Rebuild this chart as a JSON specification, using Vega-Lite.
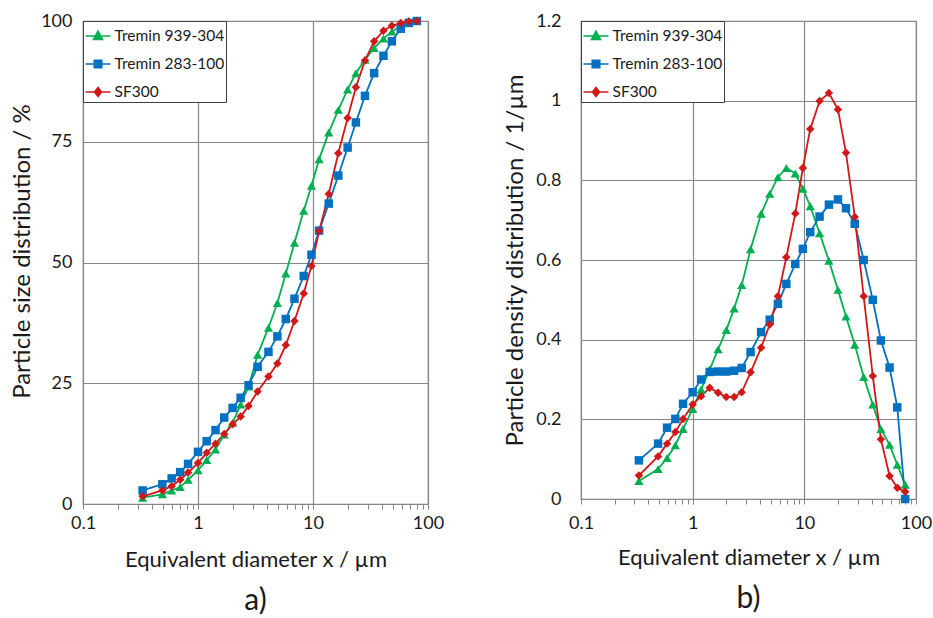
{
  "$schema": "https://vega.github.io/schema/vega-lite/v6.json",
  "padding": {"left": 10, "top": 11, "right": 2, "bottom": 2},
  "background": "white",
  "config": {
    "font": "Lato",
    "view": {"stroke": "#868686", "strokeWidth": 1.2},
    "axis": {"labelColor": "#1a1a1a", "titleColor": "#1a1a1a", "titleFontWeight": "normal", "gridColor": "#868686", "gridWidth": 1.2, "domainColor": "#868686", "tickColor": "#868686", "labelFontSize": 18, "titleFontSize": 22},
    "legend": {"title": null, "orient": "top-left", "offset": 0, "padding": 1.5, "strokeColor": "#404040", "fillColor": "white", "symbolSize": 625, "symbolStrokeWidth": 1.6, "labelFontSize": 15.5, "labelOffset": 3, "rowPadding": 6, "labelColor": "#1a1a1a"},
    "concat": {"spacing": 58},
    "title": {"fontWeight": "normal", "color": "#1a1a1a"}
  },
  "datasets": {
    "cum": [
      {"s": "Tremin 939-304", "d": 0.33, "v": 1.3}, {"s": "Tremin 939-304", "d": 0.49, "v": 2.0}, {"s": "Tremin 939-304", "d": 0.59, "v": 2.8}, {"s": "Tremin 939-304", "d": 0.70, "v": 3.5}, {"s": "Tremin 939-304", "d": 0.82, "v": 5.0}, {"s": "Tremin 939-304", "d": 1.0, "v": 7.0}, {"s": "Tremin 939-304", "d": 1.19, "v": 9.1}, {"s": "Tremin 939-304", "d": 1.42, "v": 11.3}, {"s": "Tremin 939-304", "d": 1.69, "v": 14.4}, {"s": "Tremin 939-304", "d": 2.0, "v": 16.8}, {"s": "Tremin 939-304", "d": 2.35, "v": 20.6}, {"s": "Tremin 939-304", "d": 2.75, "v": 24.3}, {"s": "Tremin 939-304", "d": 3.3, "v": 30.9}, {"s": "Tremin 939-304", "d": 4.1, "v": 36.5}, {"s": "Tremin 939-304", "d": 4.9, "v": 41.6}, {"s": "Tremin 939-304", "d": 5.8, "v": 47.7}, {"s": "Tremin 939-304", "d": 6.9, "v": 54.1}, {"s": "Tremin 939-304", "d": 8.3, "v": 60.7}, {"s": "Tremin 939-304", "d": 9.7, "v": 65.9}, {"s": "Tremin 939-304", "d": 11.3, "v": 71.4}, {"s": "Tremin 939-304", "d": 13.7, "v": 76.9}, {"s": "Tremin 939-304", "d": 16.6, "v": 81.6}, {"s": "Tremin 939-304", "d": 20, "v": 85.8}, {"s": "Tremin 939-304", "d": 23.6, "v": 89.2}, {"s": "Tremin 939-304", "d": 28.3, "v": 92.0}, {"s": "Tremin 939-304", "d": 34, "v": 94.4}, {"s": "Tremin 939-304", "d": 41, "v": 96.4}, {"s": "Tremin 939-304", "d": 48.5, "v": 97.8}, {"s": "Tremin 939-304", "d": 58, "v": 99.0}, {"s": "Tremin 939-304", "d": 68, "v": 99.6}, {"s": "Tremin 939-304", "d": 80, "v": 100},
      {"s": "Tremin 283-100", "d": 0.33, "v": 2.8}, {"s": "Tremin 283-100", "d": 0.49, "v": 4.1}, {"s": "Tremin 283-100", "d": 0.59, "v": 5.3}, {"s": "Tremin 283-100", "d": 0.70, "v": 6.6}, {"s": "Tremin 283-100", "d": 0.82, "v": 8.3}, {"s": "Tremin 283-100", "d": 1.0, "v": 10.8}, {"s": "Tremin 283-100", "d": 1.19, "v": 13.0}, {"s": "Tremin 283-100", "d": 1.42, "v": 15.3}, {"s": "Tremin 283-100", "d": 1.69, "v": 17.9}, {"s": "Tremin 283-100", "d": 2.0, "v": 19.9}, {"s": "Tremin 283-100", "d": 2.35, "v": 22.0}, {"s": "Tremin 283-100", "d": 2.75, "v": 24.6}, {"s": "Tremin 283-100", "d": 3.3, "v": 28.4}, {"s": "Tremin 283-100", "d": 4.1, "v": 31.5}, {"s": "Tremin 283-100", "d": 4.9, "v": 34.7}, {"s": "Tremin 283-100", "d": 5.8, "v": 38.3}, {"s": "Tremin 283-100", "d": 6.9, "v": 42.5}, {"s": "Tremin 283-100", "d": 8.3, "v": 47.2}, {"s": "Tremin 283-100", "d": 9.7, "v": 51.6}, {"s": "Tremin 283-100", "d": 11.3, "v": 56.6}, {"s": "Tremin 283-100", "d": 13.7, "v": 62.2}, {"s": "Tremin 283-100", "d": 16.6, "v": 68.0}, {"s": "Tremin 283-100", "d": 20, "v": 73.8}, {"s": "Tremin 283-100", "d": 23.6, "v": 79.0}, {"s": "Tremin 283-100", "d": 28.3, "v": 84.5}, {"s": "Tremin 283-100", "d": 34, "v": 89.2}, {"s": "Tremin 283-100", "d": 41, "v": 92.8}, {"s": "Tremin 283-100", "d": 48.5, "v": 95.8}, {"s": "Tremin 283-100", "d": 58, "v": 98.4}, {"s": "Tremin 283-100", "d": 68, "v": 99.6}, {"s": "Tremin 283-100", "d": 80, "v": 100},
      {"s": "SF300", "d": 0.33, "v": 1.6}, {"s": "SF300", "d": 0.49, "v": 2.8}, {"s": "SF300", "d": 0.59, "v": 3.7}, {"s": "SF300", "d": 0.70, "v": 5.0}, {"s": "SF300", "d": 0.82, "v": 6.5}, {"s": "SF300", "d": 1.0, "v": 8.5}, {"s": "SF300", "d": 1.19, "v": 10.6}, {"s": "SF300", "d": 1.42, "v": 12.5}, {"s": "SF300", "d": 1.69, "v": 14.5}, {"s": "SF300", "d": 2.0, "v": 16.5}, {"s": "SF300", "d": 2.35, "v": 18.1}, {"s": "SF300", "d": 2.75, "v": 20.3}, {"s": "SF300", "d": 3.3, "v": 23.3}, {"s": "SF300", "d": 4.1, "v": 26.4}, {"s": "SF300", "d": 4.9, "v": 29.1}, {"s": "SF300", "d": 5.8, "v": 32.9}, {"s": "SF300", "d": 6.9, "v": 37.9}, {"s": "SF300", "d": 8.3, "v": 43.6}, {"s": "SF300", "d": 9.7, "v": 49.3}, {"s": "SF300", "d": 11.3, "v": 56.5}, {"s": "SF300", "d": 13.7, "v": 64.2}, {"s": "SF300", "d": 16.6, "v": 72.6}, {"s": "SF300", "d": 20, "v": 79.9}, {"s": "SF300", "d": 23.6, "v": 86.3}, {"s": "SF300", "d": 28.3, "v": 91.8}, {"s": "SF300", "d": 34, "v": 95.8}, {"s": "SF300", "d": 41, "v": 98.0}, {"s": "SF300", "d": 48.5, "v": 99.0}, {"s": "SF300", "d": 58, "v": 99.6}, {"s": "SF300", "d": 68, "v": 99.9}, {"s": "SF300", "d": 80, "v": 100}
    ],
    "dens": [
      {"s": "Tremin 939-304", "d": 0.33, "v": 0.045}, {"s": "Tremin 939-304", "d": 0.49, "v": 0.075}, {"s": "Tremin 939-304", "d": 0.59, "v": 0.103}, {"s": "Tremin 939-304", "d": 0.70, "v": 0.135}, {"s": "Tremin 939-304", "d": 0.82, "v": 0.176}, {"s": "Tremin 939-304", "d": 1.0, "v": 0.226}, {"s": "Tremin 939-304", "d": 1.19, "v": 0.275}, {"s": "Tremin 939-304", "d": 1.42, "v": 0.325}, {"s": "Tremin 939-304", "d": 1.69, "v": 0.376}, {"s": "Tremin 939-304", "d": 2.0, "v": 0.424}, {"s": "Tremin 939-304", "d": 2.35, "v": 0.478}, {"s": "Tremin 939-304", "d": 2.75, "v": 0.537}, {"s": "Tremin 939-304", "d": 3.3, "v": 0.627}, {"s": "Tremin 939-304", "d": 4.1, "v": 0.716}, {"s": "Tremin 939-304", "d": 4.9, "v": 0.766}, {"s": "Tremin 939-304", "d": 5.8, "v": 0.808}, {"s": "Tremin 939-304", "d": 6.9, "v": 0.831}, {"s": "Tremin 939-304", "d": 8.3, "v": 0.817}, {"s": "Tremin 939-304", "d": 9.7, "v": 0.779}, {"s": "Tremin 939-304", "d": 11.3, "v": 0.735}, {"s": "Tremin 939-304", "d": 13.7, "v": 0.667}, {"s": "Tremin 939-304", "d": 16.6, "v": 0.598}, {"s": "Tremin 939-304", "d": 20, "v": 0.525}, {"s": "Tremin 939-304", "d": 23.6, "v": 0.458}, {"s": "Tremin 939-304", "d": 28.3, "v": 0.387}, {"s": "Tremin 939-304", "d": 34, "v": 0.306}, {"s": "Tremin 939-304", "d": 41, "v": 0.237}, {"s": "Tremin 939-304", "d": 48.5, "v": 0.176}, {"s": "Tremin 939-304", "d": 58, "v": 0.136}, {"s": "Tremin 939-304", "d": 68, "v": 0.086}, {"s": "Tremin 939-304", "d": 80, "v": 0.036},
      {"s": "Tremin 283-100", "d": 0.33, "v": 0.097}, {"s": "Tremin 283-100", "d": 0.49, "v": 0.139}, {"s": "Tremin 283-100", "d": 0.59, "v": 0.179}, {"s": "Tremin 283-100", "d": 0.70, "v": 0.201}, {"s": "Tremin 283-100", "d": 0.82, "v": 0.239}, {"s": "Tremin 283-100", "d": 1.0, "v": 0.268}, {"s": "Tremin 283-100", "d": 1.19, "v": 0.300}, {"s": "Tremin 283-100", "d": 1.42, "v": 0.319}, {"s": "Tremin 283-100", "d": 1.69, "v": 0.320}, {"s": "Tremin 283-100", "d": 2.0, "v": 0.320}, {"s": "Tremin 283-100", "d": 2.35, "v": 0.322}, {"s": "Tremin 283-100", "d": 2.75, "v": 0.329}, {"s": "Tremin 283-100", "d": 3.3, "v": 0.369}, {"s": "Tremin 283-100", "d": 4.1, "v": 0.419}, {"s": "Tremin 283-100", "d": 4.9, "v": 0.450}, {"s": "Tremin 283-100", "d": 5.8, "v": 0.490}, {"s": "Tremin 283-100", "d": 6.9, "v": 0.540}, {"s": "Tremin 283-100", "d": 8.3, "v": 0.590}, {"s": "Tremin 283-100", "d": 9.7, "v": 0.628}, {"s": "Tremin 283-100", "d": 11.3, "v": 0.670}, {"s": "Tremin 283-100", "d": 13.7, "v": 0.709}, {"s": "Tremin 283-100", "d": 16.6, "v": 0.739}, {"s": "Tremin 283-100", "d": 20, "v": 0.752}, {"s": "Tremin 283-100", "d": 23.6, "v": 0.730}, {"s": "Tremin 283-100", "d": 28.3, "v": 0.691}, {"s": "Tremin 283-100", "d": 34, "v": 0.600}, {"s": "Tremin 283-100", "d": 41, "v": 0.500}, {"s": "Tremin 283-100", "d": 48.5, "v": 0.398}, {"s": "Tremin 283-100", "d": 58, "v": 0.330}, {"s": "Tremin 283-100", "d": 68, "v": 0.230}, {"s": "Tremin 283-100", "d": 80, "v": 0.0},
      {"s": "SF300", "d": 0.33, "v": 0.059}, {"s": "SF300", "d": 0.49, "v": 0.107}, {"s": "SF300", "d": 0.59, "v": 0.139}, {"s": "SF300", "d": 0.70, "v": 0.168}, {"s": "SF300", "d": 0.82, "v": 0.201}, {"s": "SF300", "d": 1.0, "v": 0.237}, {"s": "SF300", "d": 1.19, "v": 0.258}, {"s": "SF300", "d": 1.42, "v": 0.279}, {"s": "SF300", "d": 1.69, "v": 0.267}, {"s": "SF300", "d": 2.0, "v": 0.256}, {"s": "SF300", "d": 2.35, "v": 0.256}, {"s": "SF300", "d": 2.75, "v": 0.268}, {"s": "SF300", "d": 3.3, "v": 0.318}, {"s": "SF300", "d": 4.1, "v": 0.380}, {"s": "SF300", "d": 4.9, "v": 0.438}, {"s": "SF300", "d": 5.8, "v": 0.509}, {"s": "SF300", "d": 6.9, "v": 0.607}, {"s": "SF300", "d": 8.3, "v": 0.717}, {"s": "SF300", "d": 9.7, "v": 0.831}, {"s": "SF300", "d": 11.3, "v": 0.929}, {"s": "SF300", "d": 13.7, "v": 0.999}, {"s": "SF300", "d": 16.6, "v": 1.019}, {"s": "SF300", "d": 20, "v": 0.978}, {"s": "SF300", "d": 23.6, "v": 0.869}, {"s": "SF300", "d": 28.3, "v": 0.708}, {"s": "SF300", "d": 34, "v": 0.509}, {"s": "SF300", "d": 41, "v": 0.309}, {"s": "SF300", "d": 48.5, "v": 0.150}, {"s": "SF300", "d": 58, "v": 0.058}, {"s": "SF300", "d": 68, "v": 0.028}, {"s": "SF300", "d": 80, "v": 0.018}
    ]
  },
  "resolve": {"scale": {"color": "independent"}, "legend": {"color": "independent"}},
  "hconcat": [
    {
      "width": 345,
      "height": 483,
      "data": {"name": "cum"},
      "title": {"text": "a)", "orient": "bottom", "fontSize": 30, "offset": 16, "anchor": "middle", "frame": "group"},
      "encoding": {
        "x": {"field": "d", "type": "quantitative", "scale": {"type": "log", "domain": [0.1, 100]},
          "axis": {"title": "Equivalent diameter x / µm", "values": [0.1,0.2,0.3,0.4,0.5,0.6,0.7,0.8,0.9,1,2,3,4,5,6,7,8,9,10,20,30,40,50,60,70,80,90,100], "format": "~g",
            "labelExpr": "datum.value == 0.1 || datum.value == 1 || datum.value == 10 || datum.value == 100 ? datum.label : ''",
            "gridOpacity": {"condition": {"test": "datum.value == 0.1 || datum.value == 1 || datum.value == 10 || datum.value == 100", "value": 1}, "value": 0},
            "labelOverlap": false, "labelFlush": false, "labelBound": false, "tickSize": 5, "labelPadding": 5, "titlePadding": 17}},
        "y": {"field": "v", "type": "quantitative", "scale": {"domain": [0, 100]},
          "axis": {"title": "Particle size distribution / %", "titleFontSize": 24, "titleY": 230, "values": [0, 25, 50, 75, 100], "tickSize": 0, "labelPadding": 11, "titlePadding": 6, "domain": false}},
        "color": {"field": "s", "type": "nominal", "scale": {"domain": ["Tremin 939-304", "Tremin 283-100", "SF300"], "range": ["#00b050", "#0070c0", "#d01818"]},
          "legend": {"encode": {"symbols": {"update": {
            "shape": {"signal": "datum.value == 'Tremin 939-304' ? 'M-1,0H1M0,-0.38L0.36,0.28L-0.36,0.28Z' : datum.value == 'Tremin 283-100' ? 'M-1,0H1M-0.3,-0.3H0.3V0.3H-0.3Z' : 'M-1,0H1M0,-0.36L0.28,0L0,0.36L-0.28,0Z'"},
            "stroke": {"signal": "datum.value == 'Tremin 939-304' ? '#00b050' : datum.value == 'Tremin 283-100' ? '#0070c0' : '#d01818'"},
            "fill": {"signal": "datum.value == 'Tremin 939-304' ? '#00b050' : datum.value == 'Tremin 283-100' ? '#0070c0' : '#d01818'"}
          }}}}}
      },
      "layer": [
        {"mark": {"type": "line", "strokeWidth": 1.8}},
        {"transform": [{"filter": "datum.s == 'Tremin 939-304'"}], "mark": {"type": "point", "shape": "triangle-up", "filled": true, "size": 85, "opacity": 1}},
        {"transform": [{"filter": "datum.s == 'Tremin 283-100'"}], "mark": {"type": "point", "shape": "square", "filled": true, "size": 72, "opacity": 1}},
        {"transform": [{"filter": "datum.s == 'SF300'"}], "mark": {"type": "point", "shape": "diamond", "filled": true, "size": 72, "opacity": 1}}
      ]
    },
    {
      "width": 335,
      "height": 478,
      "data": {"name": "dens"},
      "title": {"text": "b)", "orient": "bottom", "fontSize": 30, "offset": 16, "anchor": "middle", "frame": "group"},
      "encoding": {
        "x": {"field": "d", "type": "quantitative", "scale": {"type": "log", "domain": [0.1, 100]},
          "axis": {"title": "Equivalent diameter x / µm", "values": [0.1,0.2,0.3,0.4,0.5,0.6,0.7,0.8,0.9,1,2,3,4,5,6,7,8,9,10,20,30,40,50,60,70,80,90,100], "format": "~g",
            "labelExpr": "datum.value == 0.1 || datum.value == 1 || datum.value == 10 || datum.value == 100 ? datum.label : ''",
            "gridOpacity": {"condition": {"test": "datum.value == 0.1 || datum.value == 1 || datum.value == 10 || datum.value == 100", "value": 1}, "value": 0},
            "labelOverlap": false, "labelFlush": false, "labelBound": false, "tickSize": 5, "labelPadding": 10, "titlePadding": 15}},
        "y": {"field": "v", "type": "quantitative", "scale": {"domain": [0, 1.2]},
          "axis": {"title": "Particle density distribution / 1/µm", "titleFontSize": 24, "values": [0, 0.2, 0.4, 0.6, 0.8, 1, 1.2], "format": "~g", "tickSize": 0, "labelPadding": 20, "titlePadding": 8, "domain": false}},
        "color": {"field": "s", "type": "nominal", "scale": {"domain": ["Tremin 939-304", "Tremin 283-100", "SF300"], "range": ["#00b050", "#0070c0", "#d01818"]},
          "legend": {"encode": {"symbols": {"update": {
            "shape": {"signal": "datum.value == 'Tremin 939-304' ? 'M-1,0H1M0,-0.38L0.36,0.28L-0.36,0.28Z' : datum.value == 'Tremin 283-100' ? 'M-1,0H1M-0.3,-0.3H0.3V0.3H-0.3Z' : 'M-1,0H1M0,-0.36L0.28,0L0,0.36L-0.28,0Z'"},
            "stroke": {"signal": "datum.value == 'Tremin 939-304' ? '#00b050' : datum.value == 'Tremin 283-100' ? '#0070c0' : '#d01818'"},
            "fill": {"signal": "datum.value == 'Tremin 939-304' ? '#00b050' : datum.value == 'Tremin 283-100' ? '#0070c0' : '#d01818'"}
          }}}}}
      },
      "layer": [
        {"mark": {"type": "line", "strokeWidth": 1.8}},
        {"transform": [{"filter": "datum.s == 'Tremin 939-304'"}], "mark": {"type": "point", "shape": "triangle-up", "filled": true, "size": 85, "opacity": 1}},
        {"transform": [{"filter": "datum.s == 'Tremin 283-100'"}], "mark": {"type": "point", "shape": "square", "filled": true, "size": 72, "opacity": 1}},
        {"transform": [{"filter": "datum.s == 'SF300'"}], "mark": {"type": "point", "shape": "diamond", "filled": true, "size": 72, "opacity": 1}}
      ]
    }
  ]
}
